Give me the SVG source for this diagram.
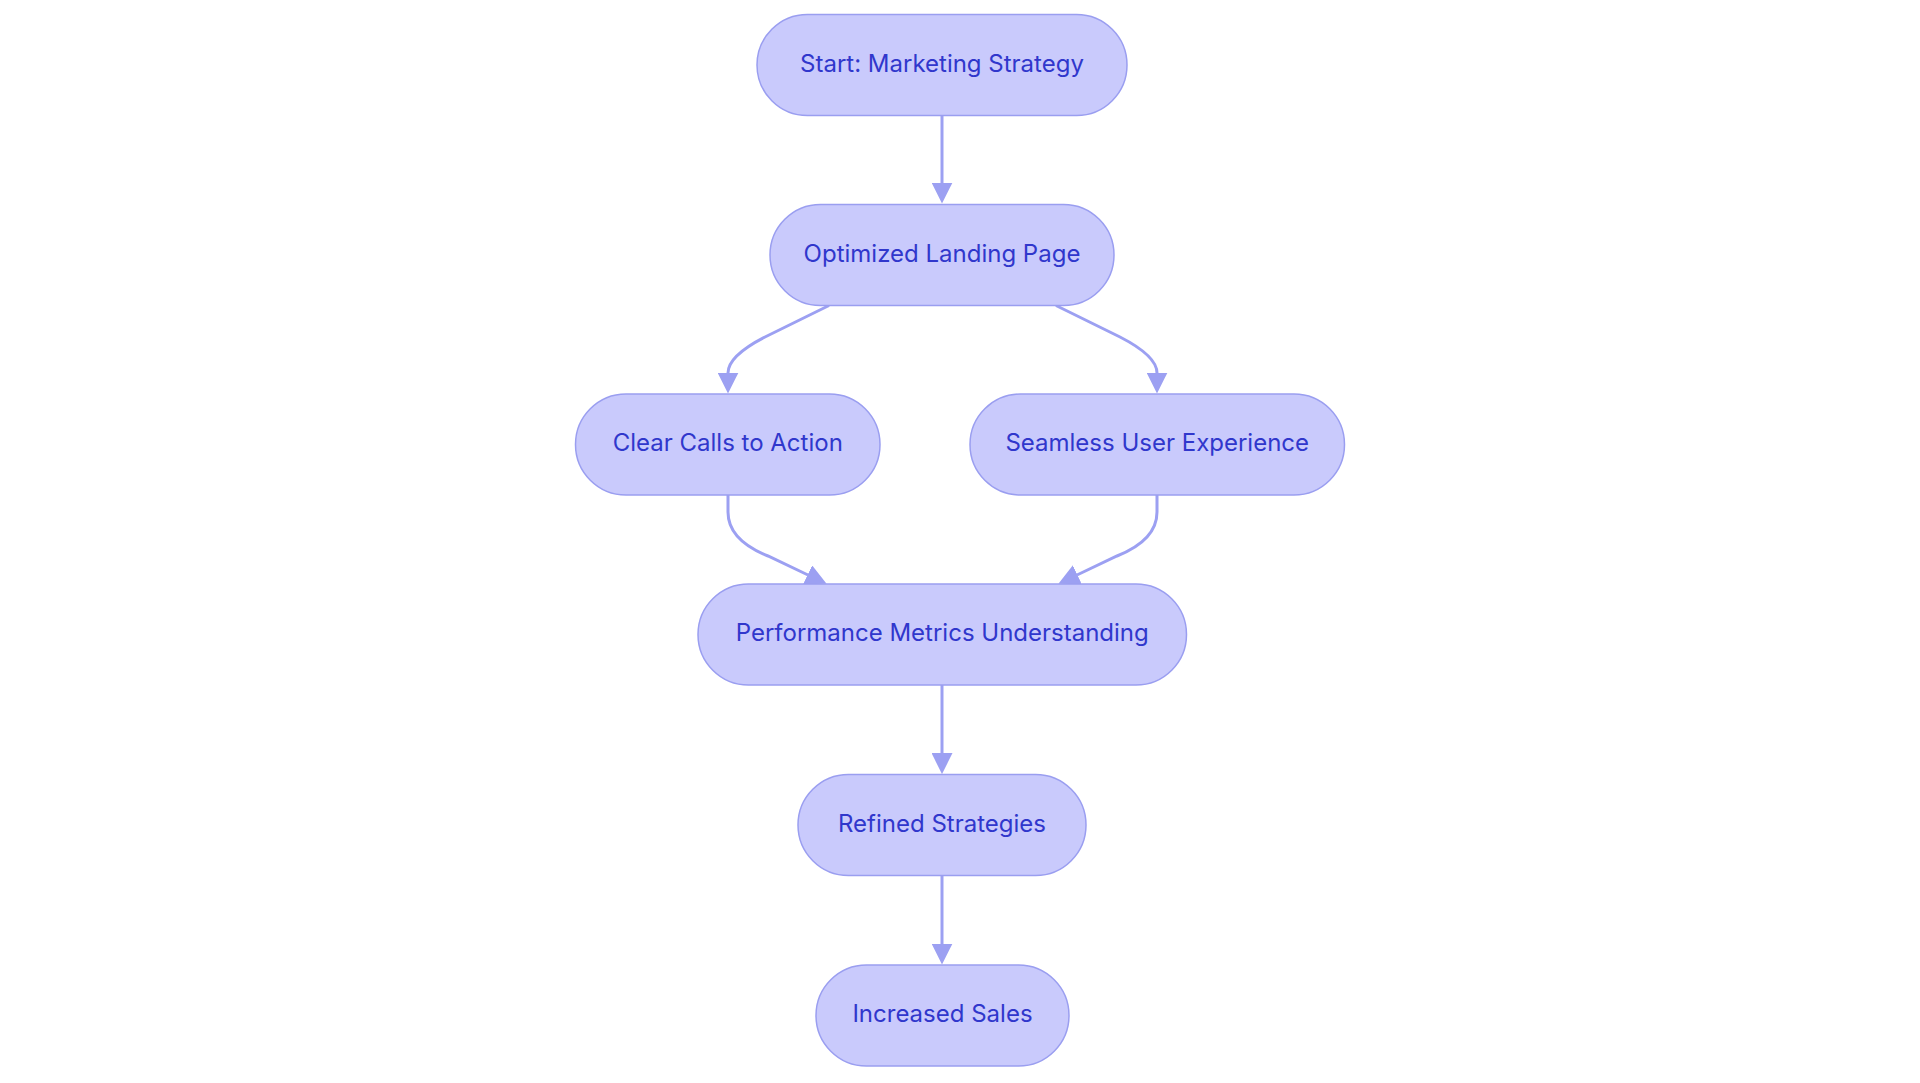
<svg xmlns="http://www.w3.org/2000/svg" width="1920" height="1083" viewBox="0 0 1920 1083">
<defs>
<style>
.node rect{fill:#c9cafc;stroke:#9a9ef0;stroke-width:1.5}
.node text{font-family:Inter,"Noto Sans","Liberation Sans",sans-serif;font-size:24px;fill:#3037cc;text-anchor:middle}
.edge{fill:none;stroke:#9ca0f2;stroke-width:3}
</style>
<marker id="arrow" viewBox="0 0 10 10" refX="0.2" refY="5" markerUnits="userSpaceOnUse" markerWidth="21" markerHeight="21" orient="auto">
<path d="M0,0 L10,5 L0,10 z" fill="#9ca0f2"/>
</marker>
</defs>
<rect width="1920" height="1083" fill="#ffffff"/>
<g id="connectors">
<path class="edge" d="M942,115.5 L942,183" marker-end="url(#arrow)"/>
<path class="edge" d="M829,305.5 L765,337 Q728,356 728,373" marker-end="url(#arrow)"/>
<path class="edge" d="M1056,305.5 L1120,337 Q1157,356 1157,373" marker-end="url(#arrow)"/>
<path class="edge" d="M728,495 L728,512 Q728,540 768,556 L808,575" marker-end="url(#arrow)"/>
<path class="edge" d="M1157,495 L1157,512 Q1157,540 1117,556 L1077,575" marker-end="url(#arrow)"/>
<path class="edge" d="M942,685 L942,753.5" marker-end="url(#arrow)"/>
<path class="edge" d="M942,875.5 L942,944" marker-end="url(#arrow)"/>
</g>
<g id="start" class="node"><rect x="757" y="14.5" width="370" height="101" rx="50.5"/><text x="942" y="71.5">Start: Marketing Strategy</text></g>
<g id="landing" class="node"><rect x="770" y="204.5" width="344" height="101" rx="50.5"/><text x="942" y="261.5">Optimized Landing Page</text></g>
<g id="cta" class="node"><rect x="575.5" y="394" width="304.5" height="101" rx="50.5"/><text x="727.75" y="451">Clear Calls to Action</text></g>
<g id="ux" class="node"><rect x="970" y="394" width="374.5" height="101" rx="50.5"/><text x="1157.25" y="451">Seamless User Experience</text></g>
<g id="metrics" class="node"><rect x="698" y="584" width="488.5" height="101" rx="50.5"/><text x="942.25" y="641">Performance Metrics Understanding</text></g>
<g id="refined" class="node"><rect x="798" y="774.5" width="288" height="101" rx="50.5"/><text x="942" y="831.5">Refined Strategies</text></g>
<g id="sales" class="node"><rect x="816" y="965" width="253" height="101" rx="50.5"/><text x="942.5" y="1022">Increased Sales</text></g>
</svg>
